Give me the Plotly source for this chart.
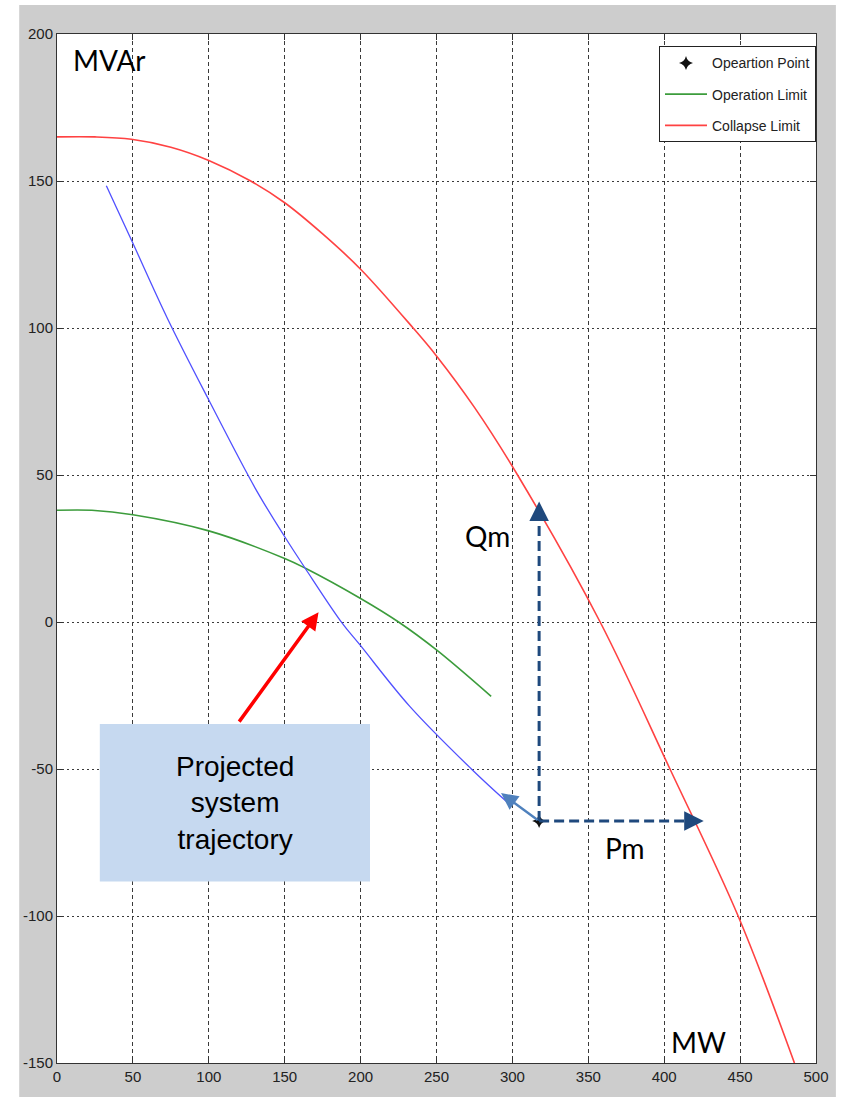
import plotly.graph_objects as go

# ---- data (MW on x, MVAr on y) ----
collapse_p = [0, 25, 49, 75, 100, 127.6, 150, 175, 200, 234.6, 250, 275, 303.4, 357.8, 403.8, 448.7, 485.8]
collapse_q = [165, 165, 164.2, 161.5, 157, 150, 142.6, 132, 120, 100, 90.5, 73, 50, 0, -50, -100, -150]

operation_p = [0, 23, 50, 100, 150, 164, 200, 225, 250, 286]
operation_q = [38, 38, 36.5, 31, 21.6, 18.2, 8, 0, -9.5, -25.3]

trajectory_p = [32.5, 49.4, 73, 100, 130.8, 149.4, 163.6, 187.6, 199.6, 232.4, 272.8, 297]
trajectory_q = [148.4, 129.5, 103, 75.5, 45.3, 29.5, 18.2, -0.2, -7.8, -28.7, -49.9, -61.5]

op_point_p = [317.6]
op_point_q = [-67.7]
trajectory_head = (292.5, -58.2)   # arrow tip on the projected trajectory
qm_tip = 41.0                      # MVAr reached by the Qm margin arrow
pm_tip = 426.0                     # MW reached by the Pm margin arrow

x_ticks = [0, 50, 100, 150, 200, 250, 300, 350, 400, 450, 500]
x_tick_labels = ["0", "50", "100", "150", "200", "250", "300", "350", "400", "450", "500"]
y_ticks = [-150, -100, -50, 0, 50, 100, 150, 200]
y_tick_labels = ["-150", "-100", "-50", "0", "50", "100", "150", "200"]

# ---- style ----
NARROW = "Liberation Sans Narrow, Arial Narrow, Liberation Sans, Arial, sans-serif"
NAVY = "#1f497d"
GRAY_BG = "#cdcdcd"

fig = go.Figure()

fig.add_trace(go.Scatter(
    x=collapse_p, y=collapse_q, mode="lines", name="Collapse Limit",
    line=dict(color="#ff4242", width=1.6, shape="spline", smoothing=1.0),
    legendgroup="c", legendrank=3,
))
fig.add_trace(go.Scatter(
    x=operation_p, y=operation_q, mode="lines", name="Operation Limit",
    line=dict(color="#3c9c3c", width=1.6, shape="spline", smoothing=1.0),
    legendgroup="b", legendrank=2,
))
fig.add_trace(go.Scatter(
    x=trajectory_p, y=trajectory_q, mode="lines", name="trajectory",
    line=dict(color="#5050ff", width=1.3, shape="spline", smoothing=1.0),
    showlegend=False,
))
fig.add_trace(go.Scatter(
    x=op_point_p, y=op_point_q, mode="markers", name="Opeartion Point",
    marker=dict(symbol="star-diamond", size=10, color="#111111"),
    legendgroup="a", legendrank=1,
))

# ---- margin arrows (dashed navy) ----
op_x, op_y = op_point_p[0], op_point_q[0]
fig.add_shape(type="line", x0=op_x, y0=op_y, x1=op_x, y1=qm_tip - 5,
              line=dict(color=NAVY, width=3, dash="10px,5px"), layer="above")
fig.add_shape(type="line", x0=op_x, y0=op_y, x1=pm_tip - 8, y1=op_y,
              line=dict(color=NAVY, width=3, dash="10px,5px"), layer="above")

arrow_common = dict(text="", showarrow=True, axref="x", ayref="y", xref="x", yref="y")
fig.add_annotation(x=op_x, y=qm_tip, ax=op_x, ay=qm_tip - 6,
                   arrowhead=2, arrowwidth=3, arrowsize=1.3, arrowcolor=NAVY, **arrow_common)
fig.add_annotation(x=pm_tip, y=op_y, ax=pm_tip - 10, ay=op_y,
                   arrowhead=2, arrowwidth=3, arrowsize=1.3, arrowcolor=NAVY, **arrow_common)

# last leg of the trajectory drawn as a small arrow
fig.add_annotation(x=trajectory_head[0], y=trajectory_head[1], ax=op_x, ay=op_y,
                   arrowhead=2, arrowwidth=2.4, arrowsize=1.4, arrowcolor="#4f81bd", **arrow_common)

# callout box and red pointer
fig.add_shape(type="rect", x0=28.2, x1=206.2, y0=-88.3, y1=-34.7,
              fillcolor="#c6d9f0", line=dict(width=0), layer="above")
fig.add_annotation(x=117.3, y=-61.5, xref="x", yref="y", showarrow=False,
                   text="Projected<br>system<br>trajectory",
                   font=dict(family="Liberation Sans, Arial, sans-serif", size=28, color="#000000"))
fig.add_annotation(x=172.3, y=3.3, ax=119.3, ay=-34.4,
                   arrowhead=2, arrowwidth=3.5, arrowsize=1.0, arrowcolor="#ff0000", **arrow_common)

# axis unit labels and margin labels
label_font = dict(family="Lato, Liberation Sans, sans-serif", size=28, color="#000000")
for txt, lx, ly in [("MVAr", 9.0, 191.1), ("Qm", 267.4, 29.1), ("Pm", 359.8, -76.7), ("MW", 403.0, -142.9)]:
    fig.add_annotation(x=lx, y=ly, text=txt, showarrow=False, xref="x", yref="y",
                       xanchor="left", yanchor="middle", font=label_font)

# white page border around the grey figure window
for x0, x1, y0, y1 in [(-0.08, -0.0498, -0.1, 1.1), (-0.1, 1.1, 1.0281, 1.05), (1.0262, 1.05, -0.1, 1.1)]:
    fig.add_shape(type="rect", xref="paper", yref="paper", x0=x0, x1=x1, y0=y0, y1=y1,
                  fillcolor="white", line=dict(width=0), layer="below")

axis_common = dict(
    showline=True, linecolor="#333333", linewidth=1, mirror="ticks",
    ticks="inside", ticklen=6, tickcolor="#333333",
    showgrid=True, gridcolor="#3a3a3a", gridwidth=1, zeroline=False,
    tickfont=dict(family=NARROW, size=15, color="#222222"),
)

fig.update_layout(
    width=841, height=1097,
    margin=dict(l=57, r=21, t=34, b=31),
    paper_bgcolor=GRAY_BG, plot_bgcolor="white",
    xaxis=dict(range=[0, 500], tickvals=x_ticks, ticktext=x_tick_labels,
               griddash="4px,3px", **axis_common),
    yaxis=dict(range=[-150, 200], tickvals=y_ticks, ticktext=y_tick_labels,
               griddash="2px,3px", **axis_common),
    legend=dict(x=1.0, y=0.988, xanchor="right", yanchor="top",
                bgcolor="white", bordercolor="#222222", borderwidth=1,
                font=dict(family=NARROW, size=14, color="#222222"),
                itemwidth=42, tracegroupgap=10, traceorder="grouped"),
    showlegend=True,
)

fig.write_html("out.html")
